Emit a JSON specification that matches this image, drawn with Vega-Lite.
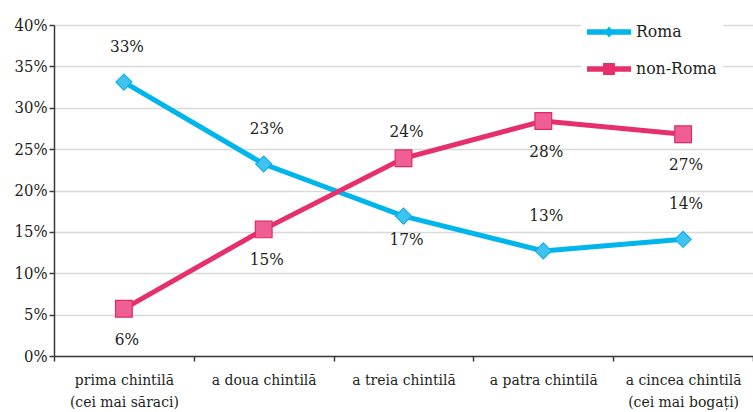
{
  "$schema": "https://vega.github.io/schema/vega-lite/v6.json",
  "width": 699,
  "height": 331,
  "autosize": {"type": "none"},
  "padding": {"left": 54, "top": 25, "right": 0, "bottom": 56},
  "background": "white",
  "config": {
    "font": "DejaVu Serif Condensed",
    "view": {"stroke": null},
    "text": {"font": "DejaVu Serif Condensed"},
    "axis": {"labelFont": "DejaVu Serif Condensed", "labelFontSize": 16.5, "labelColor": "#231f20", "domainColor": "#3a3a3a", "tickColor": "#3a3a3a", "domainWidth": 1.5, "tickWidth": 1.5}
  },
  "data": {
    "values": [
      {"q": "prima chintilă (cei mai săraci)", "series": "Roma", "v": 0.331},
      {"q": "a doua chintilă", "series": "Roma", "v": 0.232},
      {"q": "a treia chintilă", "series": "Roma", "v": 0.169},
      {"q": "a patra chintilă", "series": "Roma", "v": 0.127},
      {"q": "a cincea chintilă (cei mai bogați)", "series": "Roma", "v": 0.141},
      {"q": "prima chintilă (cei mai săraci)", "series": "non-Roma", "v": 0.057},
      {"q": "a doua chintilă", "series": "non-Roma", "v": 0.153},
      {"q": "a treia chintilă", "series": "non-Roma", "v": 0.239},
      {"q": "a patra chintilă", "series": "non-Roma", "v": 0.284},
      {"q": "a cincea chintilă (cei mai bogați)", "series": "non-Roma", "v": 0.268}
    ]
  },
  "encoding": {
    "x": {
      "field": "q", "type": "nominal", "sort": null,
      "scale": {"type": "band", "paddingInner": 0, "paddingOuter": 0},
      "axis": {
        "title": null, "labelAngle": 0, "tickBand": "extent", "tickSize": 5,
        "labelPadding": 11, "labelFontSize": 15.5, "labelLineHeight": 22,
        "labelExpr": "indexof(datum.label,' (')>0 ? [substring(datum.label,0,indexof(datum.label,' (')), substring(datum.label,indexof(datum.label,' (')+1)] : datum.label"
      }
    },
    "y": {
      "field": "v", "type": "quantitative",
      "scale": {"domain": [0, 0.4], "nice": false},
      "axis": {"title": null, "format": ".0%", "values": [0, 0.05, 0.1, 0.15, 0.2, 0.25, 0.3, 0.35, 0.4], "labelOverlap": false, "tickSize": 5, "labelPadding": 2, "grid": true, "gridColor": "#d9d9d9", "gridWidth": 1.5}
    }
  },
  "layer": [
    {
      "mark": {"type": "line", "strokeWidth": 5},
      "encoding": {
        "color": {
          "field": "series", "type": "nominal",
          "scale": {"domain": ["Roma", "non-Roma"], "range": ["#00b5ec", "#e6306c"]},
          "legend": {
            "title": null, "orient": "none", "legendX": 527, "legendY": -21,
            "fillColor": "white", "padding": 6, "symbolSize": 1936, "rowPadding": 6,
            "labelFont": "DejaVu Serif Condensed", "labelFontSize": 17.5, "labelColor": "#231f20", "labelOffset": 5,
            "encode": {
              "symbols": {
                "update": {
                  "shape": {"signal": "datum.value == 'Roma' ? 'M-1,-0.13H1V0.13H-1Z M0,-0.25L0.21,0L0,0.25L-0.21,0Z' : 'M-1,-0.13H1V0.13H-1Z M-0.27,-0.27H0.27V0.27H-0.27Z'"},
                  "fill": {"signal": "scale('color', datum.value)"},
                  "fillOpacity": {"value": 1},
                  "strokeWidth": {"value": 0}
                }
              }
            }
          }
        }
      }
    },
    {
      "transform": [{"filter": "datum.series == 'Roma'"}],
      "mark": {"type": "point", "shape": "diamond", "size": 256, "filled": true, "opacity": 1, "fill": "#3fc4f2", "stroke": "#14aee3", "strokeWidth": 1.2}
    },
    {
      "transform": [{"filter": "datum.series == 'non-Roma'"}],
      "mark": {"type": "point", "shape": "square", "size": 280, "filled": true, "opacity": 1, "fill": "#ef5f95", "stroke": "#e02b66", "strokeWidth": 1.2}
    },
    {
      "transform": [{"filter": "datum.series == 'Roma' && datum.q != 'a treia chintilă'"}],
      "mark": {"type": "text", "fontSize": 17, "color": "#231f20", "baseline": "middle", "dy": -35, "dx": 3},
      "encoding": {"text": {"field": "v", "type": "quantitative", "format": ".0%"}}
    },
    {
      "transform": [{"filter": "datum.series == 'Roma' && datum.q == 'a treia chintilă'"}],
      "mark": {"type": "text", "fontSize": 17, "color": "#231f20", "baseline": "middle", "dy": 24, "dx": 3},
      "encoding": {"text": {"field": "v", "type": "quantitative", "format": ".0%"}}
    },
    {
      "transform": [{"filter": "datum.series == 'non-Roma' && datum.q == 'a treia chintilă'"}],
      "mark": {"type": "text", "fontSize": 17, "color": "#231f20", "baseline": "middle", "dy": -26, "dx": 3},
      "encoding": {"text": {"field": "v", "type": "quantitative", "format": ".0%"}}
    },
    {
      "transform": [{"filter": "datum.series == 'non-Roma' && datum.q != 'a treia chintilă'"}],
      "mark": {"type": "text", "fontSize": 17, "color": "#231f20", "baseline": "middle", "dy": 31, "dx": 3},
      "encoding": {"text": {"field": "v", "type": "quantitative", "format": ".0%"}}
    }
  ]
}
